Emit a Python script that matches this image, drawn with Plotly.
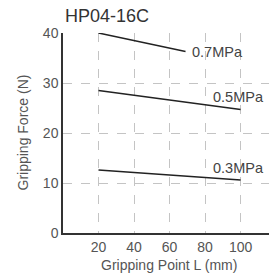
import plotly.graph_objects as go

pressures = ["0.7MPa", "0.5MPa", "0.3MPa"]
x_07 = [20, 69]
y_07 = [40.0, 36.3]
x_05 = [20, 100]
y_05 = [28.5, 24.7]
x_03 = [20, 100]
y_03 = [12.6, 10.6]
label_x = [86.8, 98.9, 98.6]
label_y = [36.2, 27.3, 13.0]
x_ticks = [20, 40, 60, 80, 100]
y_ticks = [0, 10, 20, 30, 40]

fig = go.Figure()
for xs, ys in [(x_07, y_07), (x_05, y_05), (x_03, y_03)]:
    fig.add_trace(go.Scatter(x=xs, y=ys, mode="lines",
                             line=dict(color="#222222", width=1.5),
                             showlegend=False, hoverinfo="skip"))

for name, lx, ly in zip(pressures, label_x, label_y):
    fig.add_annotation(x=lx, y=ly, text=name, showarrow=False,
                       font=dict(size=14.5, color="#444444", family="Liberation Sans"))

fig.add_annotation(xref="paper", yref="paper", x=0, y=1.0, yshift=5,
                   xanchor="left", yanchor="bottom", text="HP04-16C", showarrow=False,
                   font=dict(size=18, color="#333333", family="Liberation Sans"))
fig.add_annotation(xref="paper", yref="paper", x=0.515, y=0, yshift=-22,
                   xanchor="center", yanchor="top", text="Gripping Point L (mm)",
                   showarrow=False, font=dict(size=14, color="#555555"))
fig.add_annotation(xref="paper", yref="paper", x=0, y=0.5, xshift=-40.5,
                   xanchor="center", yanchor="middle", text="Gripping Force (N)",
                   textangle=-90, showarrow=False, font=dict(size=14, color="#555555"))

fig.update_xaxes(range=[0, 116], tickvals=x_ticks, showgrid=True,
                 gridcolor="#c4c4c4", griddash="dash", gridwidth=1,
                 showline=True, linecolor="#333333", linewidth=1.5,
                 zeroline=False, ticks="", automargin=False,
                 tickfont=dict(size=14, color="#555555"))
fig.update_yaxes(range=[0, 40], tickvals=y_ticks, showgrid=True,
                 gridcolor="#c4c4c4", griddash="dash", gridwidth=1,
                 showline=True, linecolor="#333333", linewidth=1.5,
                 zeroline=False, ticks="", automargin=False,
                 tickfont=dict(size=14, color="#555555"))

fig.update_layout(width=269, height=279,
                  margin=dict(l=63, r=0, t=33, b=46),
                  paper_bgcolor="white", plot_bgcolor="white",
                  font=dict(family="Liberation Sans"))

fig.write_html("out.html", config={"displayModeBar": False},
               post_script="document.body.style.margin='0';document.body.style.padding='0';document.body.style.overflow='hidden';")
